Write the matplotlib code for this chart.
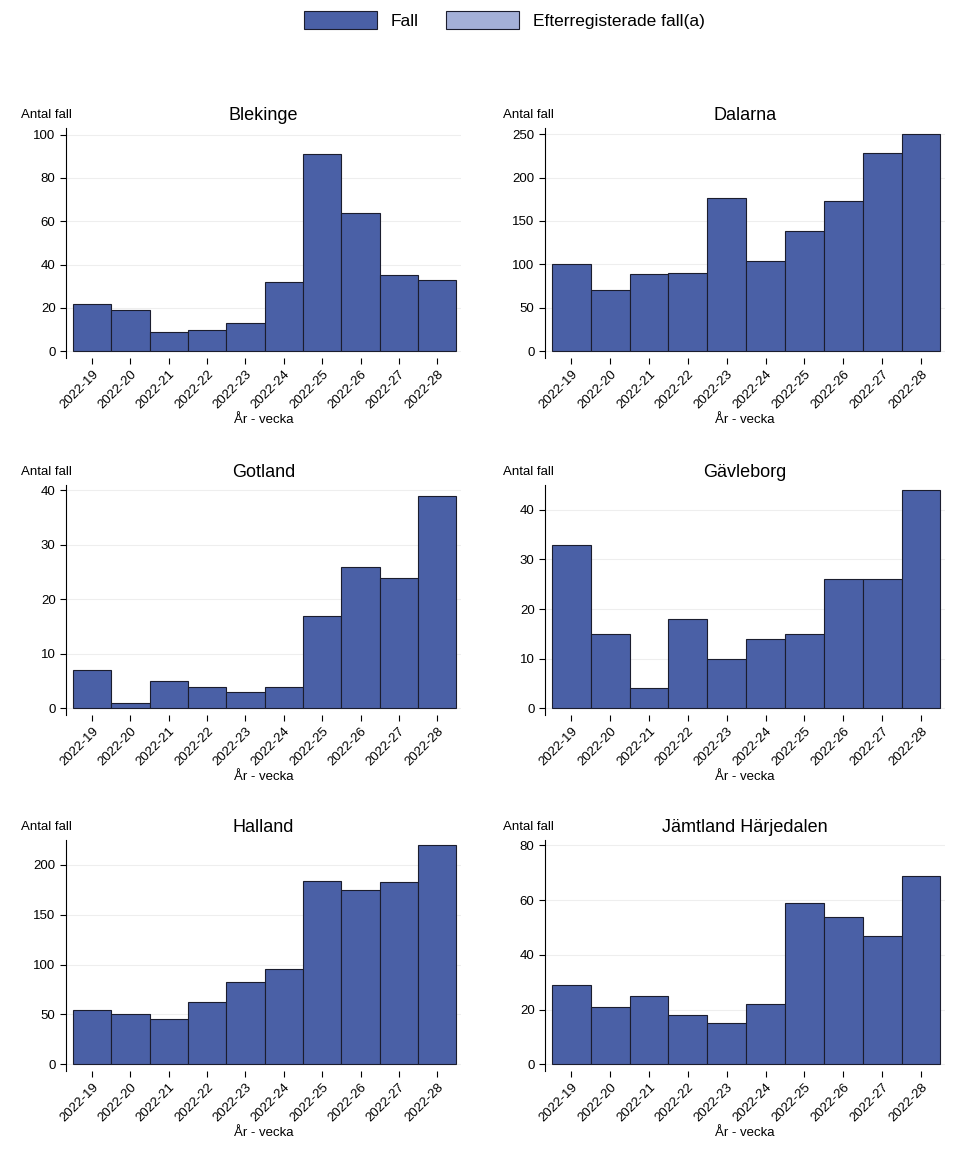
import matplotlib
matplotlib.use("Agg")
import matplotlib.pyplot as plt
from matplotlib.patches import Patch

weeks = [f"2022-{w}" for w in range(19, 29)]
regions = ["Blekinge", "Dalarna", "Gotland", "Gävleborg", "Halland", "Jämtland Härjedalen"]
values = [
    [22, 19, 9, 10, 13, 32, 91, 64, 35, 33],
    [101, 70, 89, 90, 176, 104, 139, 173, 228, 250],
    [7, 1, 5, 4, 3, 4, 17, 26, 24, 39],
    [33, 15, 4, 18, 10, 14, 15, 26, 26, 44],
    [54, 50, 45, 62, 83, 96, 184, 175, 183, 220],
    [29, 21, 25, 18, 15, 22, 59, 54, 47, 69],
]
tops = [103, 257, 41, 45, 225, 82]
steps = [20, 50, 10, 10, 50, 20]

BAR = "#4a60a6"
LIGHT = "#a4b0d8"
W, H = 961, 1149
fig = plt.figure(figsize=(W/100, H/100), dpi=100)
plt.rcParams['font.family'] = ['Arial', 'Liberation Sans', 'DejaVu Sans']

lefts = [66, 545]
widths = [395, 400]
rows = [(128, 358), (485, 715), (840, 1071)]
for i, reg in enumerate(regions):
    r, c = divmod(i, 2)
    x0 = lefts[c]; w = widths[c]
    yt, yb = rows[r]
    ax = fig.add_axes([x0/W, 1-yb/H, w/W, (yb-yt)/H])
    x = list(range(10))
    ax.bar(x, values[i], width=1.0, color=BAR, edgecolor="#1b1d2e", linewidth=0.8, zorder=3)
    ax.set_xlim(-0.68, 9.62)
    ax.set_ylim(-tops[i]*0.03, tops[i])
    ax.set_yticks(range(0, tops[i]+1, steps[i]))
    ax.set_xticks(x)
    ax.set_xticklabels(weeks, rotation=45, ha="right", rotation_mode="anchor", fontsize=9.5)
    ax.tick_params(axis='y', labelsize=9.5, length=4)
    ax.tick_params(axis='x', length=4)
    ax.grid(axis='y', color="#eeeeee", linewidth=0.8, zorder=0)
    for s in ["top", "right", "bottom"]:
        ax.spines[s].set_visible(False)
    ax.spines["left"].set_linewidth(0.8)
    ax.set_title(reg, fontsize=13, pad=6)
    ax.set_xlabel("År - vecka", fontsize=9.5, labelpad=2)
    ax.text(-0.115 if c == 0 else -0.105, 1.03, "Antal fall", transform=ax.transAxes, fontsize=9.5, ha="left", va="bottom")

handles = [Patch(facecolor=BAR, edgecolor="#1b1d2e", linewidth=0.8),
           Patch(facecolor=LIGHT, edgecolor="#1b1d2e", linewidth=0.8)]
fig.legend(handles, ["Fall", "Efterregisterade fall(a)"], loc="center", bbox_to_anchor=(0.525, 1-20/H),
           ncol=2, frameon=False, fontsize=12.5, handlelength=4.2, handleheight=1.3, columnspacing=1.6)
fig.savefig("out.png", dpi=100)
